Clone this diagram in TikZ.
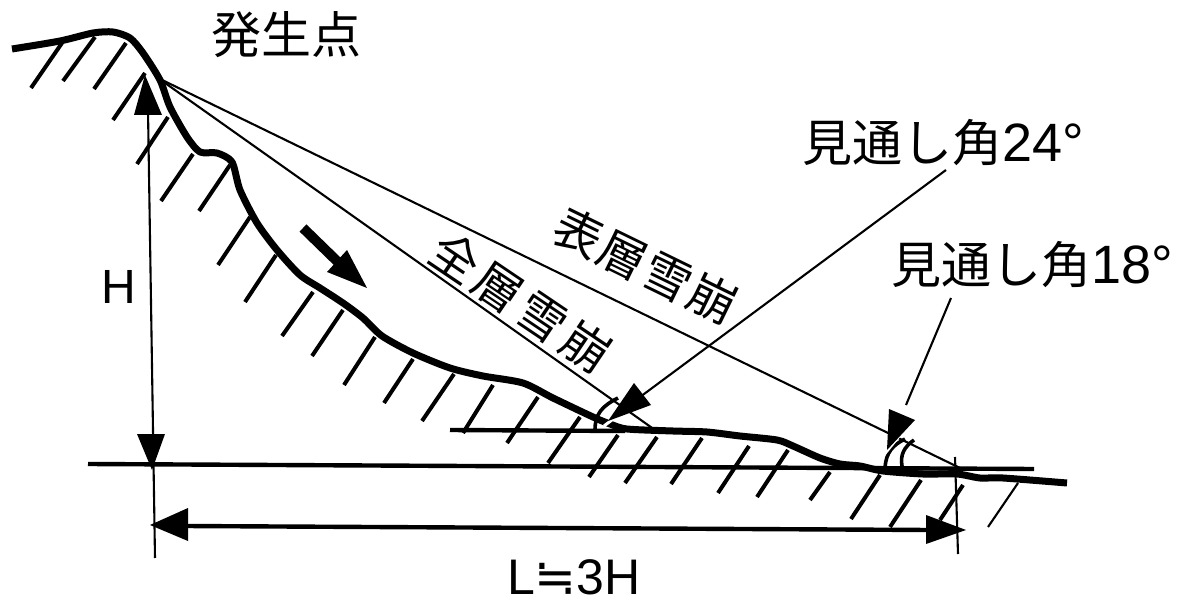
\documentclass[tikz,border=0pt]{standalone}
\usepackage{fontspec}
\setmainfont{Noto Sans CJK JP}
\newfontfamily\latinface{Liberation Sans}
\newfontfamily\symface{DejaVu Sans}
\newcommand{\dig}[1]{{\latinface\fontsize{54}{54}\selectfont #1}}
\tikzset{
  slope/.style={line width=7pt,line join=round,line cap=butt},
  hatch/.style={line width=4pt},
  datum/.style={line width=4.4pt},
  thin line/.style={line width=2.1pt},
  arc line/.style={line width=3.6pt},
  head/.style={fill=black,draw=none},
  label/.style={inner sep=0pt,font=\fontsize{50}{50}\selectfont},
  slanted/.style={inner sep=0pt,font=\fontsize{48}{48}\selectfont},
}
\begin{document}
\begin{tikzpicture}[x=1pt,y=-1pt]
\useasboundingbox (0,0) rectangle (1185,601);
% named points
\coordinate (apex) at (158,78);
\coordinate (toe1) at (655,430);
\coordinate (toe2) at (960,468);
% hatching
\foreach \a/\b/\c/\d in {62/43/31/88,95/37/63/81,126/43/94/89,145/73/113/120,168/117/137/164,193/154/161/201,230/165/199/211,250/217/218/265,276/255/245/302,313/292/282/336,343/310/312/356,375/337/344/385,413/359/384/403,454/374/422/421,493/385/463/433,538/397/507/443,580/417/548/463,618/435/589/477,657/437/625/483,702/438/671/484,749/446/718/493,788/450/757/497,830/472/810/500,880/475/851/519,921/480/890/527,963/485/940/520}
  \draw[hatch] (\a,\b) -- (\c,\d);
\draw[thin line] (1018,483) -- (988,527);
% datum lines
\draw[datum] (88,464) -- (1034,469);
\draw[datum] (450,430) -- (625,431);
% sight lines
\draw[thin line] (apex) -- (toe1);
\draw[thin line] (apex) -- (toe2);
% slope profile
\draw[slope] plot[smooth,tension=0.45] coordinates {(12,49) (60,41) (93,33) (113,32) (130,38) (143,53) (160,80) (170,107) (187,137) (200,152) (217,153) (232,162) (240,190) (257,223) (277,250) (300,275) (320,288) (343,303) (363,318) (382,336) (413,353) (450,368) (483,376) (523,383) (553,398) (593,417) (610,424) (627,429) (673,431) (707,432) (740,436) (777,440) (793,446) (820,458) (840,464) (860,466) (883,471) (923,474) (957,474) (980,478) (1003,478) (1067,483)};
% H dimension
\draw[thin line] (148,110) -- (155,558);
\fill[head] (145,75) -- (162,115) -- (134,115) -- cycle;
\fill[head] (152,470) -- (137,434) -- (165,434) -- cycle;
% L dimension
\draw[datum] (185,526) -- (930,530);
\fill[head] (150,525) -- (188,508) -- (188,541) -- cycle;
\fill[head] (966,530) -- (926,515) -- (926,544) -- cycle;
\draw[thin line] (955,457) -- (958,554);
% flow arrow
\draw[line width=10pt] (303,228) -- (340,264);
\fill[head] (367,288) -- (347,250) -- (327,272) -- cycle;
% angle arcs
\draw[arc line] (595,430) .. controls (595,414) and (602,406) .. (618,398);
\draw[arc line] (885,468) .. controls (886,452) and (893,445) .. (905,439);
\draw[arc line] (902,466) .. controls (900,455) and (904,447) .. (914,440);
% leaders
\draw[thin line] (946,170) -- (640,397);
\draw[white,line width=3pt] (604,426) -- (625,410);
\fill[head] (608,421) -- (634,383) -- (651,405) -- cycle;
\draw[thin line] (951,298) -- (906,405);
\draw[white,line width=2.5pt] (884,455) -- (901,434);
\fill[head] (887,450) -- (889,409) -- (915,420) -- cycle;
% labels
\node[label] (origin) at (286,35) {発生点};
\node[label] (h) at (119,287) {\latinface\fontsize{48}{48}\selectfont H};
\node[label] (ratio) at (574,577) {\fontsize{50}{50}\selectfont{\latinface L}{\symface ≒}{\latinface 3H}};
\node[label,anchor=west] (a24) at (802,143) {見通し角\dig{24°}};
\node[label,anchor=west] (a18) at (891,265) {見通し角\dig{18°}};
\node[slanted,rotate=-34] (full) at (521,302) {全\hspace{5pt}層\hspace{5pt}雪\hspace{5pt}崩};
\node[slanted,rotate=-26] (surface) at (646,266) {表\hspace{2pt}層\hspace{2pt}雪\hspace{2pt}崩};
\end{tikzpicture}
\end{document}
